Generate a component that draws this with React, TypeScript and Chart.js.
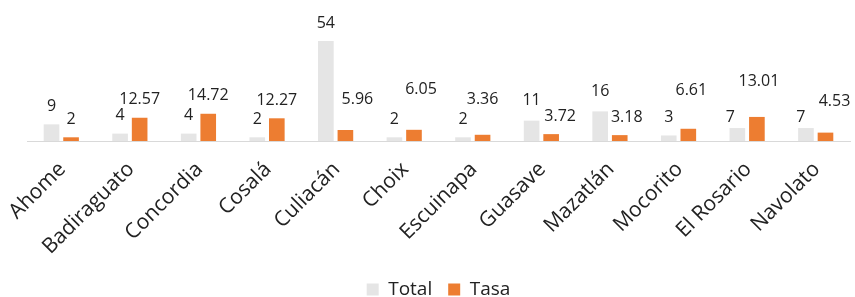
import { useEffect, useRef } from 'react';
import { Chart, registerables } from 'chart.js';

Chart.register(...registerables);

const categories = ['Ahome', 'Badiraguato', 'Concordia', 'Cosalá', 'Culiacán', 'Choix', 'Escuinapa', 'Guasave', 'Mazatlán', 'Mocorito', 'El Rosario', 'Navolato'];
const totalValues = [9, 4, 4, 2, 54, 2, 2, 11, 16, 3, 7, 7];
const tasaValues = [2, 12.57, 14.72, 12.27, 5.96, 6.05, 3.36, 3.72, 3.18, 6.61, 13.01, 4.53];

// manual nudges of the data labels (px), as in the original chart
const totalLabelNudge = [[0, 0], [0, 0], [0, 0], [0, 0], [0, 0], [0, 0], [0, 0], [0, -2], [0, -2], [0, 0], [-7, 7], [-5, 7]];
const tasaLabelNudge = [[0, 0], [0, 0], [0, 0], [0, 0], [12, -13], [7, -22], [0, -17], [9, 0], [7, 0], [3, -20], [2, -17], [9, -13]];

const FONT = "'Open Sans', 'Noto Sans', sans-serif";
const TEXT = '#222222';

const labelPlugin = {
  id: 'barLabels',
  afterDatasetsDraw(chart: any) {
    const ctx = chart.ctx;
    ctx.save();
    ctx.font = `16px ${FONT}`;
    ctx.fillStyle = TEXT;
    ctx.textAlign = 'center';
    ctx.textBaseline = 'middle';
    chart.data.datasets.forEach((ds: any, di: number) => {
      const meta = chart.getDatasetMeta(di);
      const nudges = di === 0 ? totalLabelNudge : tasaLabelNudge;
      meta.data.forEach((el: any, i: number) => {
        const [dx, dy] = nudges[i];
        ctx.fillText(String(ds.data[i]), el.x + dx, el.y - 18 + dy);
      });
    });
    ctx.restore();
  },
};

export default function App() {
  const ref = useRef<HTMLCanvasElement | null>(null);
  useEffect(() => {
    if (!ref.current) return;
    const chart = new Chart(ref.current, {
      type: 'bar',
      data: {
        labels: categories,
        datasets: [
          { label: 'Total', data: totalValues, backgroundColor: '#e5e5e5', categoryPercentage: 0.57, barPercentage: 0.8 },
          { label: 'Tasa', data: tasaValues, backgroundColor: '#ed7d31', categoryPercentage: 0.57, barPercentage: 0.8 },
        ],
      },
      options: {
        animation: false,
        responsive: true,
        maintainAspectRatio: false,
        layout: { padding: { left: 27, right: 5, top: 30, bottom: -12 } },
        plugins: {
          legend: {
            position: 'bottom',
            labels: { boxWidth: 12, boxHeight: 12, padding: 16, color: TEXT, font: { family: FONT, size: 19 } },
          },
          tooltip: { enabled: false },
        },
        scales: {
          x: {
            grid: { display: true, drawOnChartArea: false, drawTicks: false },
            border: { display: true, color: '#d9d9d9', width: 1 },
            ticks: { minRotation: 45, maxRotation: 45, autoSkip: false, padding: 16, labelOffset: 1, color: TEXT, font: { family: FONT, size: 21 } },
            afterFit(scale: any) {
              scale.height = 123;
              scale.paddingLeft = 0;
              scale.paddingRight = 0;
            },
          },
          y: { display: false, min: 0, max: 60 },
        },
      },
      plugins: [labelPlugin],
    });
    return () => chart.destroy();
  }, []);
  return (
    <div style={{ position: 'fixed', left: 0, top: 0, width: 855, height: 297 }}>
      <canvas ref={ref} />
    </div>
  );
}
